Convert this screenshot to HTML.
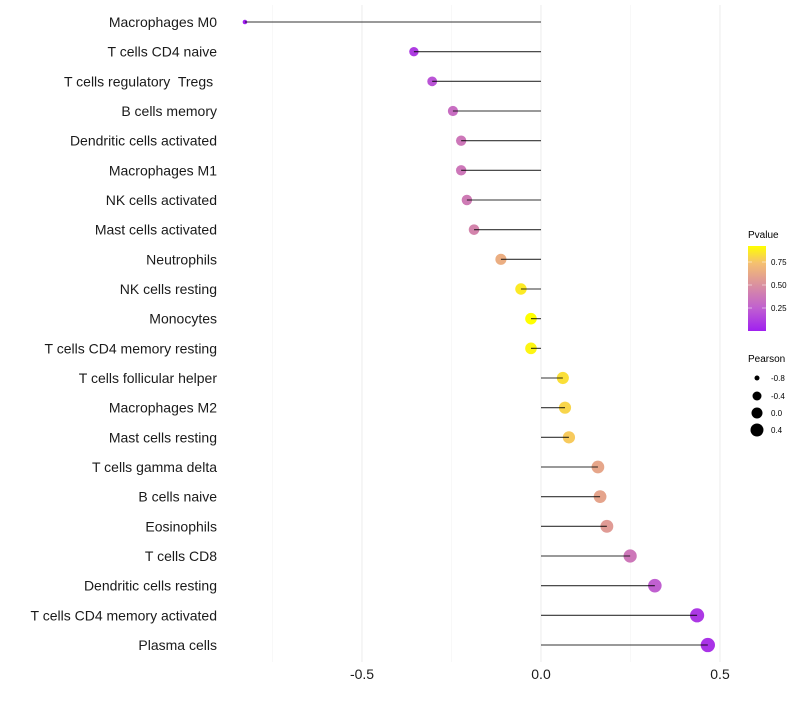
<!DOCTYPE html>
<html><head><meta charset="utf-8"><style>
body{margin:0;background:#fff;font-family:"Liberation Sans",sans-serif}
text{white-space:pre}
</style></head><body>
<svg id="chart" width="800" height="700" xmlns="http://www.w3.org/2000/svg">
<defs><linearGradient id="pg" x1="0" y1="1" x2="0" y2="0">
<stop offset="0" stop-color="#A020F0"/><stop offset="0.27" stop-color="#C060D0"/><stop offset="0.54" stop-color="#DA90A0"/><stop offset="0.8" stop-color="#F5C070"/><stop offset="1" stop-color="#FFFF00"/></linearGradient></defs>
<g id="grid"></g><g id="marks"></g><g id="labels"></g>
<g>
<text x="748" y="238" font-size="10">Pvalue</text>
<rect x="748" y="246" width="18" height="85" fill="url(#pg)"/>
<line x1="748" x2="752" y1="262" y2="262" stroke="#fff" stroke-opacity="0.5"/><line x1="762" x2="766" y1="262" y2="262" stroke="#fff" stroke-opacity="0.5"/>
<line x1="748" x2="752" y1="285" y2="285" stroke="#fff" stroke-opacity="0.5"/><line x1="762" x2="766" y1="285" y2="285" stroke="#fff" stroke-opacity="0.5"/>
<line x1="748" x2="752" y1="308" y2="308" stroke="#fff" stroke-opacity="0.5"/><line x1="762" x2="766" y1="308" y2="308" stroke="#fff" stroke-opacity="0.5"/>
<text x="771" y="265" font-size="8">0.75</text><text x="771" y="288" font-size="8">0.50</text><text x="771" y="311" font-size="8">0.25</text>
</g>
<g>
<text x="748" y="362" font-size="10">Pearson</text>
<circle cx="757" cy="378" r="2.5"/><text x="771" y="381" font-size="8">-0.8</text>
<circle cx="757" cy="396" r="4.5"/><text x="771" y="399" font-size="8">-0.4</text>
<circle cx="757" cy="413" r="5.5"/><text x="771" y="416" font-size="8">0.0</text>
<circle cx="757" cy="430" r="6.5"/><text x="771" y="433" font-size="8">0.4</text>
</g>
</svg>
<script>
const categories=["Macrophages M0","T cells CD4 naive","T cells regulatory  Tregs ","B cells memory","Dendritic cells activated","Macrophages M1","NK cells activated","Mast cells activated","Neutrophils","NK cells resting","Monocytes","T cells CD4 memory resting","T cells follicular helper","Macrophages M2","Mast cells resting","T cells gamma delta","B cells naive","Eosinophils","T cells CD8","Dendritic cells resting","T cells CD4 memory activated","Plasma cells"];
const pearson=[-0.827,-0.355,-0.304,-0.246,-0.223,-0.223,-0.207,-0.187,-0.112,-0.056,-0.028,-0.028,0.061,0.067,0.078,0.159,0.165,0.184,0.249,0.318,0.436,0.466];
const pvalues=[0.0,0.12,0.22,0.35,0.4,0.4,0.42,0.47,0.7,0.88,0.92,0.9,0.86,0.84,0.82,0.66,0.65,0.6,0.4,0.27,0.1,0.08];
const ticks=[-0.5,0.0,0.5];
const tickLabels=["-0.5","0.0","0.5"];
const minorTicks=[-0.75,-0.25,0.25];
const ns="http://www.w3.org/2000/svg";
const xs=v=>541+v*358;
const ys=i=>22+i*29.667;
const stops=[[0,[160,32,240]],[0.27,[192,96,208]],[0.54,[218,144,160]],[0.8,[245,192,112]],[0.92,[255,255,0]]];
function col(p){if(p>=0.92)return"rgb(255,255,0)";for(let k=0;k<stops.length-1;k++){const a=stops[k],b=stops[k+1];if(p<=b[0]){const t=(p-a[0])/(b[0]-a[0]);return"rgb("+a[1].map((c,j)=>Math.round(c+(b[1][j]-c)*t)).join(",")+")";}}}
const rad=v=>Math.sqrt(Math.max(3,34.7+35.6*v));
function mk(t,a,p){const e=document.createElementNS(ns,t);for(const k in a)e.setAttribute(k,a[k]);p.appendChild(e);return e;}
const grid=document.getElementById('grid'),marks=document.getElementById('marks'),labels=document.getElementById('labels');
minorTicks.forEach(v=>{const l=mk('line',{x1:xs(v),x2:xs(v),y1:5,y2:662,stroke:'#f4f4f4','stroke-width':0.6},grid);

});
ticks.forEach((v,i)=>{const l=mk('line',{x1:xs(v),x2:xs(v),y1:5,y2:662,stroke:'#ededed','stroke-width':1.1},grid);


const t=mk('text',{x:xs(v),y:679,'font-size':14,'text-anchor':'middle',fill:'#1a1a1a'},labels);t.textContent=tickLabels[i];

});
categories.forEach((c,i)=>{const y=ys(i);
const t=mk('text',{x:217,y:y+5,'font-size':14,'text-anchor':'end',fill:'#1a1a1a'},labels);t.textContent=c;


const d=mk('circle',{cx:xs(pearson[i]),cy:y,r:rad(pearson[i]),fill:col(pvalues[i])},marks);


const l=mk('line',{x1:xs(0),x2:xs(pearson[i]),y1:y,y2:y,stroke:'#000','stroke-width':1.1,'stroke-opacity':0.8},marks);

});
</script>
</body></html>
